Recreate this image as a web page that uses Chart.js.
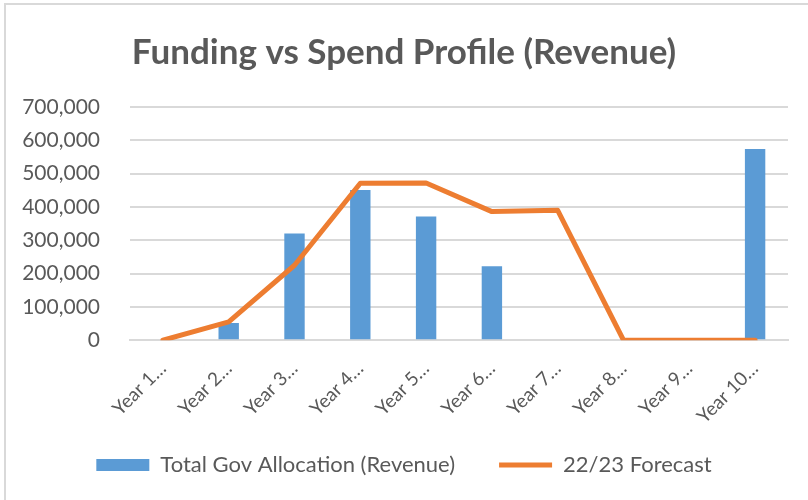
<!DOCTYPE html>
<html>
<head>
<meta charset="utf-8">
<script src="https://cdn.jsdelivr.net/npm/chart.js@4"></script>
<style>
  html, body { margin: 0; padding: 0; background: #fff; overflow: hidden; }
  #wrap { position: relative; width: 808px; height: 500px; }
  #frame { position: absolute; left: 4px; top: 3px; width: 900px; height: 600px; border: 2px solid #d9d9d9; box-sizing: border-box; }
  canvas { position: absolute; left: 0; top: 0; }
</style>
</head>
<body>
<div id="wrap">
  <div id="frame"></div>
  <canvas id="chart1" width="808" height="500"></canvas>
</div>
<script>
// données
const years = ["Year 1\u2026", "Year 2\u2026", "Year 3\u2026", "Year 4\u2026", "Year 5\u2026",
               "Year 6\u2026", "Year 7\u2026", "Year 8\u2026", "Year 9\u2026", "Year 10\u2026"];
const allocation = [null, 52000, 320000, 451000, 371000, 222000, null, null, null, 574000];
const forecast = [0, 55000, 225000, 471000, 472000, 386000, 390000, 0, 0, 0];

const grey = '#595959';
const fontFam = 'Lato, "Open Sans", sans-serif';
const xShrink = 27; // l'axe x est raccourci, la légende prend sa place

const ctx1 = document.getElementById('chart1');

// sinon les étiquettes de l'axe x sont coupées
const unclipX = {
	id: 'unclipX',
	afterLayout(chart) { chart.scales.x.bottom += xShrink; }
};

new Chart(ctx1, {
	data: {
		labels: years,
		datasets: [
			{
				type: 'line',
				label: '22/23 Forecast',
				data: forecast,
				borderColor: '#ED7D31',
				backgroundColor: '#ED7D31',
				borderWidth: 5,
				borderCapStyle: 'round',
				borderJoinStyle: 'round',
				pointRadius: 0,
				pointStyle: 'line',
				tension: 0,
				order: 0,
			},
			{
				type: 'bar',
				label: 'Total Gov Allocation (Revenue)',
				data: allocation,
				backgroundColor: '#5B9BD5',
				pointStyle: 'rect',
				categoryPercentage: 1,
				barPercentage: 0.31,
				order: 1,
			},
		]
	},
	plugins: [unclipX],
	options: {
		responsive: false,
		animation: false,
		layout: { padding: { left: 20, right: 20, top: 0, bottom: 14 } },
		plugins: {
			title: {
				display: true,
				text: 'Funding vs Spend Profile (Revenue)',
				color: grey,
				font: { family: fontFam, size: 35, weight: 'bold' },
				padding: { top: 32, bottom: 33 }
			},
			legend: {
				position: 'bottom',
				reverse: true,
				labels: {
					usePointStyle: true,
					pointStyleWidth: 53,
					boxHeight: 12,
					color: grey,
					padding: 44,
					font: { family: fontFam, size: 22 }
				}
			},
			tooltip: { enabled: false }
		},
		scales: {
			x: {
				afterFit: s => { s.height -= xShrink; },
				grid: { display: false },
				border: { color: '#d9d9d9', width: 2 },
				ticks: {
					color: grey,
					minRotation: 45,
					maxRotation: 45,
					padding: 9,
					font: { family: fontFam, size: 19 }
				}
			},
			y: {
				min: 0,
				max: 700000,
				afterFit: s => { s.width = 110; },
				grid: { color: '#d9d9d9', lineWidth: 2, drawTicks: false },
				border: { display: false },
				ticks: {
					stepSize: 100000,
					color: grey,
					padding: 30,
					font: { family: fontFam, size: 21 },
					callback: v => v.toLocaleString('en-US')
				}
			}
		}
	}
});
</script>
</body>
</html>
